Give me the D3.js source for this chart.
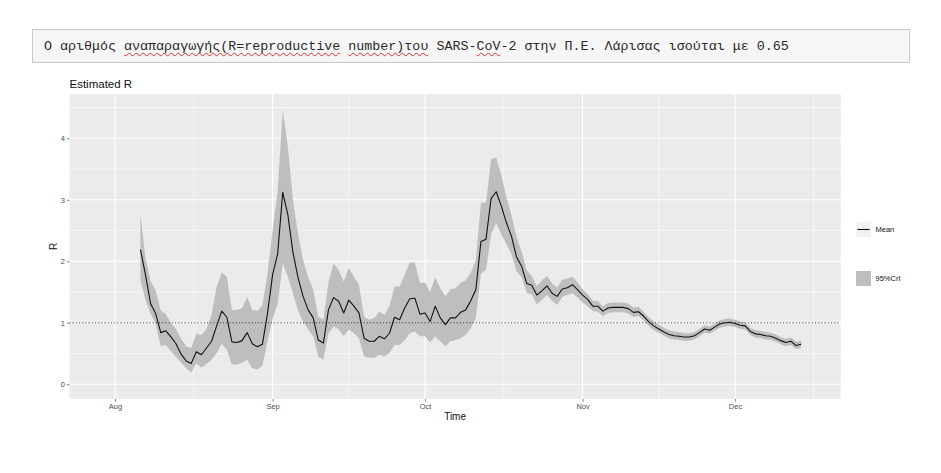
<!DOCTYPE html>
<html>
<head>
<meta charset="utf-8">
<script src="https://cdn.jsdelivr.net/npm/d3@7"></script>
<style>
body { margin:0; background:#fff; width:941px; height:473px; position:relative; overflow:hidden; }
#msg {
  position:absolute; left:32px; top:29px; width:878px; height:34px;
  background:#F6F6F6; border:1px solid #C8C8C8;
  font-family:"Liberation Mono", monospace; font-size:13.35px; color:#2a2a2a;
  line-height:34px; padding-left:11px; box-sizing:border-box; white-space:nowrap;
}
.sp { text-decoration: underline wavy #e03030; text-decoration-thickness:1px; text-decoration-skip-ink:none; text-underline-offset:2px; }
svg { position:absolute; left:0; top:0; }
</style>
</head>
<body>
<div id="msg">Ο αριθμός <span class="sp">αναπαραγωγής(R=reproductive</span> <span class="sp">number)του</span> SARS-<span class="sp">CoV</span>-2 στην Π.Ε. Λάρισας ισούται με 0.65</div>
<script>
const WIDTH = 941;
const HEIGHT = 473;

// daily estimates starting 6 Aug
const startDate = new Date(2020, 7, 6);
const meanR = [
  2.19,1.78,1.31,1.15,0.84,0.87,0.77,0.66,0.49,0.38,
  0.34,0.53,0.48,0.59,0.70,0.95,1.19,1.09,0.69,0.68,
  0.71,0.84,0.66,0.61,0.65,1.15,1.78,2.12,3.12,2.76,
  2.15,1.74,1.43,1.21,1.08,0.72,0.67,1.21,1.41,1.35,
  1.16,1.37,1.27,1.16,0.75,0.70,0.70,0.78,0.74,0.83,
  1.09,1.05,1.24,1.39,1.40,1.14,1.16,1.02,1.27,1.08,
  0.97,1.08,1.08,1.17,1.21,1.36,1.54,2.32,2.36,3.02,
  3.13,2.90,2.63,2.41,2.07,1.92,1.64,1.61,1.45,1.52,
  1.60,1.48,1.43,1.55,1.57,1.62,1.54,1.45,1.38,1.27,
  1.27,1.19,1.24,1.25,1.25,1.25,1.23,1.17,1.18,1.11,
  1.02,0.95,0.90,0.85,0.81,0.79,0.78,0.77,0.77,0.79,
  0.84,0.90,0.88,0.93,0.98,1.00,1.01,0.99,0.96,0.95,
  0.86,0.82,0.81,0.79,0.78,0.75,0.71,0.68,0.70,0.63,
  0.65
];
const upperR = [
  2.77,2.05,1.68,1.52,1.20,1.14,1.00,0.90,0.74,0.62,
  0.59,0.82,0.80,0.90,1.14,1.58,1.82,1.75,1.21,1.21,
  1.24,1.42,1.21,1.19,1.28,1.80,2.50,3.15,4.46,3.87,
  3.00,2.45,2.02,1.74,1.54,1.10,1.05,1.66,1.97,1.86,
  1.67,1.89,1.75,1.62,1.10,1.05,1.08,1.18,1.13,1.27,
  1.59,1.59,1.78,1.98,1.98,1.65,1.65,1.50,1.74,1.56,
  1.43,1.54,1.56,1.65,1.69,1.81,2.02,2.95,2.95,3.66,
  3.69,3.40,3.05,2.75,2.40,2.16,1.86,1.76,1.60,1.69,
  1.76,1.64,1.57,1.70,1.72,1.75,1.66,1.55,1.47,1.36,
  1.35,1.27,1.32,1.33,1.33,1.33,1.31,1.25,1.26,1.18,
  1.09,1.02,0.97,0.92,0.88,0.86,0.85,0.83,0.83,0.85,
  0.90,0.96,0.94,0.99,1.04,1.06,1.07,1.05,1.02,1.01,
  0.92,0.88,0.87,0.85,0.84,0.81,0.77,0.74,0.76,0.69,
  0.71
];
const lowerR = [
  1.70,1.37,1.15,0.98,0.62,0.64,0.54,0.44,0.35,0.26,
  0.19,0.34,0.27,0.33,0.40,0.51,0.66,0.56,0.32,0.32,
  0.35,0.40,0.26,0.24,0.30,0.70,1.06,1.30,1.97,1.75,
  1.48,1.20,1.02,0.89,0.78,0.45,0.40,0.83,0.94,0.89,
  0.78,0.89,0.83,0.75,0.45,0.43,0.43,0.48,0.45,0.51,
  0.64,0.64,0.72,0.83,0.86,0.78,0.78,0.68,0.78,0.70,
  0.62,0.70,0.72,0.75,0.80,0.91,1.08,1.80,1.86,2.44,
  2.62,2.44,2.28,2.12,1.84,1.74,1.49,1.46,1.30,1.37,
  1.45,1.36,1.29,1.42,1.45,1.48,1.41,1.33,1.27,1.19,
  1.18,1.11,1.16,1.17,1.17,1.17,1.15,1.10,1.11,1.04,
  0.95,0.88,0.84,0.79,0.75,0.73,0.72,0.71,0.71,0.73,
  0.78,0.84,0.82,0.87,0.92,0.94,0.95,0.93,0.90,0.89,
  0.80,0.76,0.75,0.73,0.72,0.69,0.65,0.62,0.64,0.57,
  0.59
];
const yTicks = [0, 1, 2, 3, 4];
const yMinor = [0.5, 1.5, 2.5, 3.5, 4.5];
const threshold = 1;
const legendLabels = ["Mean", "95%CrI"];

const panel = {left: 69.5, right: 840.7, top: 94, bottom: 399};

var rows = meanR.map(function(d, i){
  return {date: d3.timeDay.offset(startDate, i), mean: d, lo: lowerR[i], hi: upperR[i]};
});

var x = d3.scaleTime()
  .domain([new Date(2020, 6, 23, 1), new Date(2020, 11, 21, 19)])
  .range([panel.left, panel.right]);
var y = d3.scaleLinear().domain([-0.239, 4.72]).range([panel.bottom, panel.top]);

var svg = d3.select("body").append("svg")
  .attr("width", WIDTH).attr("height", HEIGHT)
  .style("font-family", "'Liberation Sans', Arial, sans-serif");

svg.append("rect")
  .attr("x", panel.left).attr("y", panel.top)
  .attr("width", panel.right - panel.left).attr("height", panel.bottom - panel.top)
  .attr("fill", "#EBEBEB");

var xTicks = x.ticks(d3.timeMonth.every(1));
var xMinor = [];
for (var i = 0; i < xTicks.length; i++) {
  var a = xTicks[i], b = i + 1 < xTicks.length ? xTicks[i + 1] : d3.timeMonth.offset(a, 1);
  var m = new Date((+a + +b) / 2);
  if (m >= x.domain()[0] && m <= x.domain()[1]) xMinor.push(m);
}

var grid = svg.append("g");
grid.selectAll(".ymin").data(yMinor).enter().append("line")
  .attr("x1", panel.left).attr("x2", panel.right)
  .attr("y1", y).attr("y2", y)
  .attr("stroke", "#fff").attr("stroke-width", 0.55);
grid.selectAll(".xmin").data(xMinor).enter().append("line")
  .attr("y1", panel.top).attr("y2", panel.bottom)
  .attr("x1", x).attr("x2", x)
  .attr("stroke", "#fff").attr("stroke-width", 0.55);
grid.selectAll(".ymaj").data(yTicks).enter().append("line")
  .attr("x1", panel.left).attr("x2", panel.right)
  .attr("y1", y).attr("y2", y)
  .attr("stroke", "#fff").attr("stroke-width", 1.1);
grid.selectAll(".xmaj").data(xTicks).enter().append("line")
  .attr("y1", panel.top).attr("y2", panel.bottom)
  .attr("x1", x).attr("x2", x)
  .attr("stroke", "#fff").attr("stroke-width", 1.1);

var area = d3.area()
  .x(function(d){ return x(d.date); })
  .y0(function(d){ return y(d.lo); })
  .y1(function(d){ return y(d.hi); });
svg.append("path").datum(rows)
  .attr("d", area)
  .attr("fill", "#BEBEBE");

var line = d3.line()
  .x(function(d){ return x(d.date); })
  .y(function(d){ return y(d.mean); });
svg.append("path").datum(rows)
  .attr("d", line)
  .attr("fill", "none").attr("stroke", "#111").attr("stroke-width", 1.1)
  .attr("stroke-linejoin", "round");

svg.append("line")
  .attr("x1", panel.left).attr("x2", panel.right)
  .attr("y1", y(threshold)).attr("y2", y(threshold))
  .attr("stroke", "#333").attr("stroke-width", 1)
  .attr("stroke-dasharray", "1,2.2");

// axes
var xAxis = svg.append("g")
  .attr("transform", "translate(0," + panel.bottom + ")")
  .call(d3.axisBottom(x).tickValues(xTicks).tickFormat(d3.timeFormat("%b")).tickSize(2.7).tickPadding(1.5));
var yAxis = svg.append("g")
  .attr("transform", "translate(" + panel.left + ",0)")
  .call(d3.axisLeft(y).tickValues(yTicks).tickFormat(d3.format("d")).tickSize(2.7).tickPadding(1.8));
[xAxis, yAxis].forEach(function(g){
  g.select(".domain").remove();
  g.selectAll(".tick line").attr("stroke", "#333").attr("stroke-width", 0.6);
  g.selectAll(".tick text").attr("fill", "#4D4D4D").style("font-size", "7.5px")
    .style("font-family", "'Liberation Sans', Arial, sans-serif");
});

svg.append("text")
  .attr("x", panel.left).attr("y", 87.5)
  .style("font-size", "11.5px").attr("fill", "#111")
  .text("Estimated R");
svg.append("text")
  .attr("x", (panel.left + panel.right) / 2).attr("y", 420)
  .attr("text-anchor", "middle")
  .style("font-size", "10px").attr("fill", "#111")
  .text("Time");
svg.append("text")
  .attr("transform", "translate(56.5," + ((panel.top + panel.bottom) / 2) + ") rotate(-90)")
  .attr("text-anchor", "middle")
  .style("font-size", "10px").attr("fill", "#111")
  .text("R");

// legend
var lg = svg.append("g").attr("transform", "translate(856,222)");
lg.append("rect").attr("width", 15).attr("height", 15).attr("fill", "#F2F2F2");
lg.append("line").attr("x1", 1.5).attr("x2", 13.5).attr("y1", 7.5).attr("y2", 7.5)
  .attr("stroke", "#111").attr("stroke-width", 1.1);
lg.append("text").attr("x", 19.5).attr("y", 10.2).style("font-size", "7.5px").attr("fill", "#111").text(legendLabels[0]);
var lg2 = svg.append("g").attr("transform", "translate(856,271)");
lg2.append("rect").attr("width", 15).attr("height", 15).attr("fill", "#BEBEBE");
lg2.append("text").attr("x", 19.5).attr("y", 10.2).style("font-size", "7.5px").attr("fill", "#111").text(legendLabels[1]);
</script>
</body>
</html>
